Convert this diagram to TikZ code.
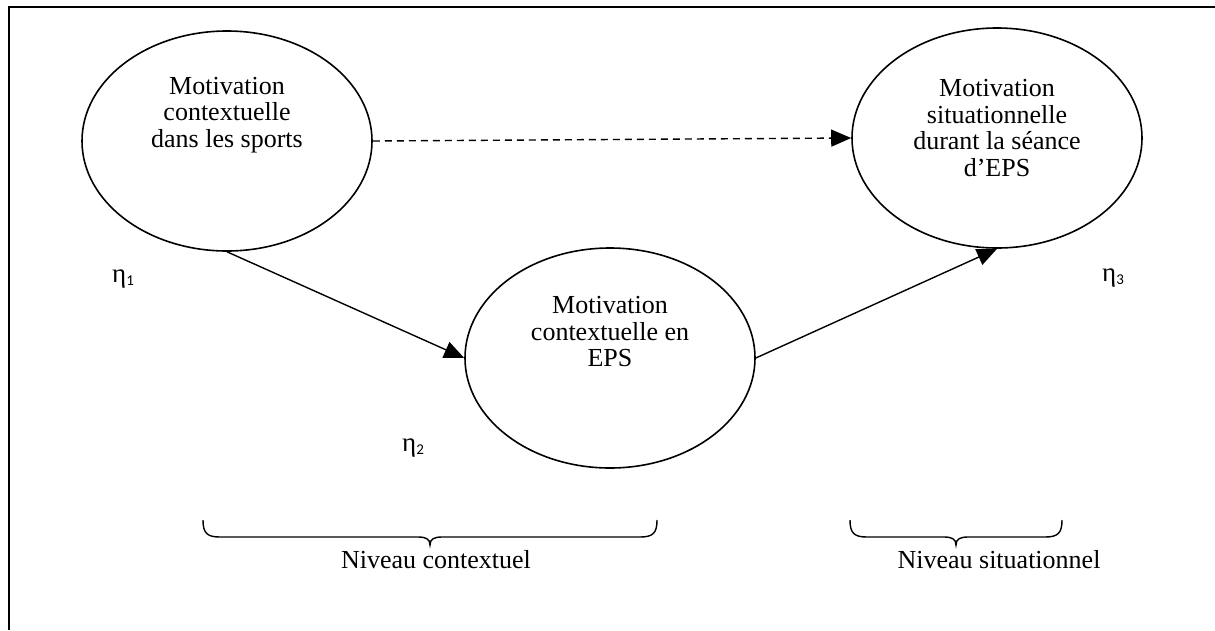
\documentclass[tikz,border=0pt]{standalone}
\usepackage{fontspec}
\setmainfont{Liberation Serif}
\newfontfamily\subfnt{Carlito}
\usetikzlibrary{arrows.meta,shapes.geometric}
\newcommand\etalbl[1]{{\fontsize{27}{27}\selectfont η}\raisebox{-3pt}{\subfnt\fontsize{15}{15}\selectfont #1}}
\begin{document}
\begin{tikzpicture}[x=1pt,y=-1pt,
  ell/.style={draw, line width=1.6pt, ellipse, minimum width=290pt, minimum height=220pt, inner sep=0pt},
  txt/.style={align=center, font=\fontsize{26}{26.5}\selectfont, inner sep=0pt},
  lvl/.style={font=\fontsize{26}{26.5}\selectfont, inner sep=0pt, anchor=base},
  etanode/.style={inner sep=0pt, anchor=base west},
  arr/.style={line width=1.4pt, -{Triangle[length=20pt,width=17pt]}},
  dasharr/.style={arr, dash pattern=on 7pt off 5pt},
  bracepath/.style={line width=1.4pt},
  frame/.style={line width=2pt}]
\useasboundingbox (0,0) rectangle (1215,630);
\draw[frame] (8.5,630) -- (8.5,7) -- (1215,7);

\node[ell] (e1) at (227,141) {};
\node[ell] (e2) at (610,358) {};
\node[ell] (e3) at (997,138) {};

\node[txt] (t1) at (227,115) {Motivation\\contextuelle\\dans les sports};
\node[txt] (t2) at (610,332) {Motivation\\contextuelle en\\EPS};
\node[txt] (t3) at (997,128) {Motivation\\situationnelle\\durant la séance\\d’EPS};

\node[etanode] (n1) at (112,282) {\etalbl{1}};
\node[etanode] (n2) at (402,451) {\etalbl{2}};
\node[etanode] (n3) at (1102,281) {\etalbl{3}};

\draw[dasharr] (e1.east) -- (e3.west);
\draw[arr] (e1.south) -- (e2.west);
\draw[arr] (e2.east) -- (e3.south);

% braces
\draw[bracepath] (203,520) .. controls (203,533) and (207,537) .. (220,537) -- (418,537)
  .. controls (426,537) and (430,539) .. (430,545)
  .. controls (430,539) and (434,537) .. (442,537) -- (640,537)
  .. controls (653,537) and (657,533) .. (657,520);
\draw[bracepath] (850,520) .. controls (850,533) and (854,537) .. (867,537) -- (944,537)
  .. controls (952,537) and (956,539) .. (956,545)
  .. controls (956,539) and (960,537) .. (968,537) -- (1045,537)
  .. controls (1058,537) and (1062,533) .. (1062,520);

\node[lvl] (l1) at (436,568) {Niveau contextuel};
\node[lvl] (l2) at (999,568) {Niveau situationnel};
\end{tikzpicture}
\end{document}
